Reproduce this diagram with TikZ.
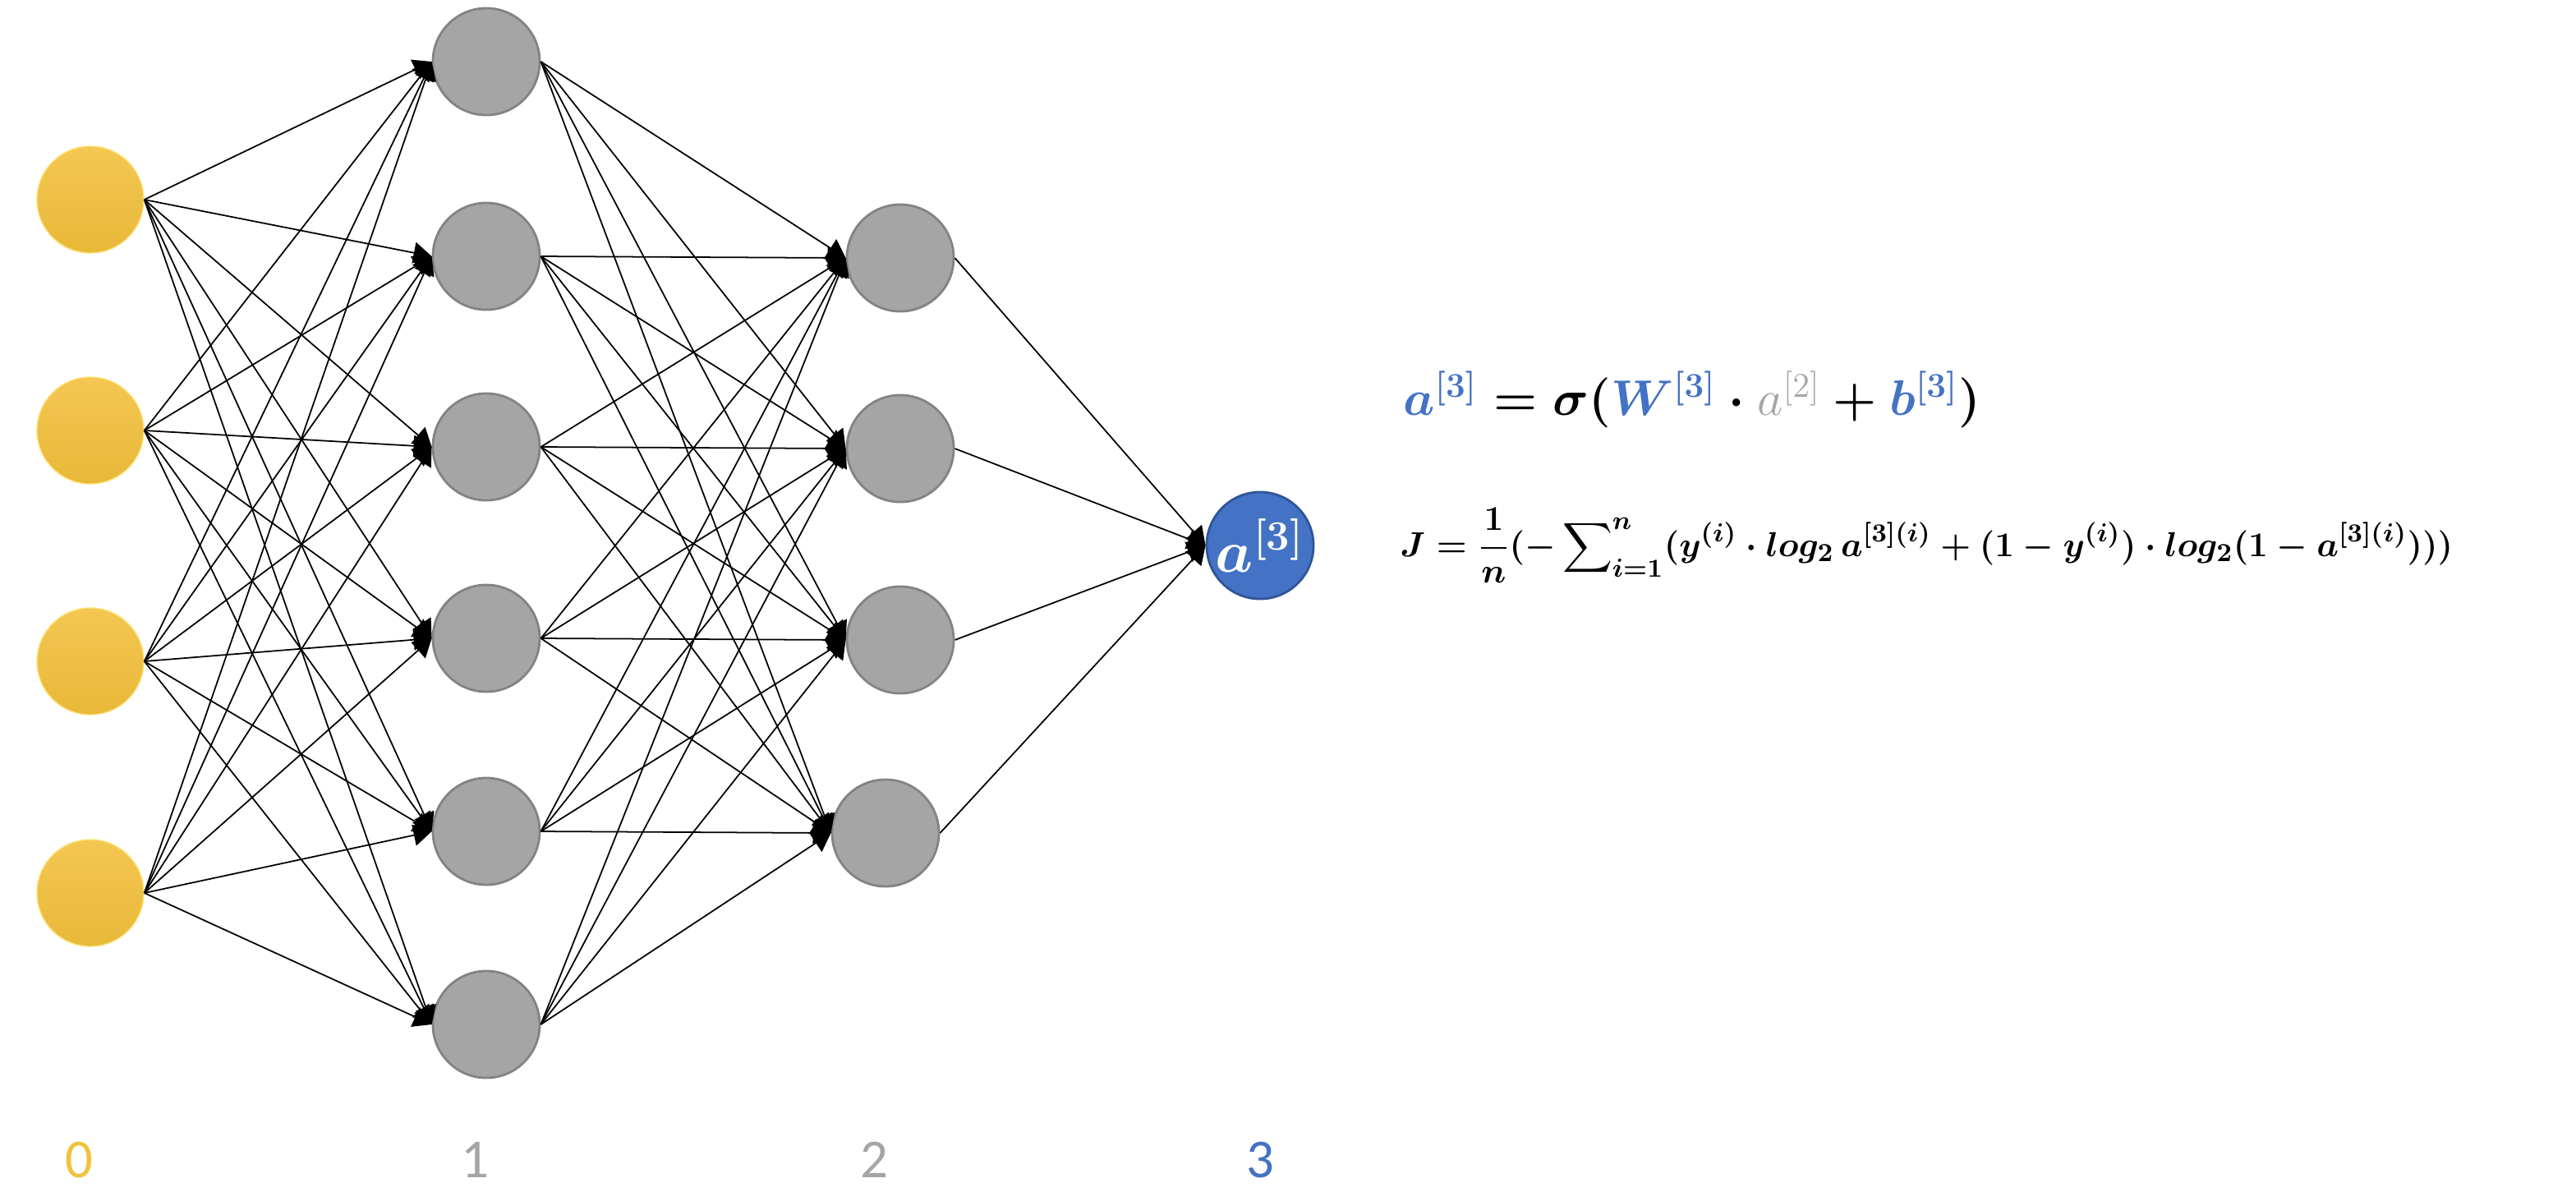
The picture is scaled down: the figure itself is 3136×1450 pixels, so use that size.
\documentclass[tikz,border=0pt]{standalone}
\usepackage{amsmath}
\usepackage{fontspec}
\newfontfamily\layerfont{Carlito}
\usetikzlibrary{arrows.meta}
\definecolor{yellowtop}{HTML}{F4C752}
\definecolor{yellowbot}{HTML}{E8B838}
\definecolor{yellowrim}{HTML}{FFE27A}
\definecolor{grayfill}{HTML}{A5A5A5}
\definecolor{grayrim}{HTML}{838383}
\definecolor{bluefill}{HTML}{4472C4}
\definecolor{bluerim}{HTML}{2F5597}
\definecolor{numyellow}{HTML}{F0C23C}
\begin{document}
\begin{tikzpicture}[x=0.01cm,y=-0.01cm,
    neuron/.style={circle,minimum size=1.3cm,inner sep=0pt},
    innode/.style={neuron,top color=yellowtop,bottom color=yellowbot,draw=yellowrim,line width=0.4pt},
    hidnode/.style={neuron,fill=grayfill,draw=grayrim,line width=0.8pt},
    outnode/.style={neuron,fill=bluefill,draw=bluerim,line width=0.8pt,text=white,font=\fontsize{21}{21}\selectfont\boldmath},
    wire/.style={-{Triangle[length=2.2mm,width=2.6mm]},line width=0.5pt},
    layernum/.style={inner sep=0pt,font=\layerfont\fontsize{19}{19}\selectfont}]
  \useasboundingbox (0,0) rectangle (3136,1450);
  % layer 0
  \node[innode] (A1) at (110,243) {};
  \node[innode] (A2) at (110,524) {};
  \node[innode] (A3) at (110,805) {};
  \node[innode] (A4) at (110,1087) {};
  % layer 1
  \node[hidnode] (B1) at (592,75) {};
  \node[hidnode] (B2) at (592,312) {};
  \node[hidnode] (B3) at (592,544) {};
  \node[hidnode] (B4) at (592,777) {};
  \node[hidnode] (B5) at (592,1012) {};
  \node[hidnode] (B6) at (592,1247) {};
  % layer 2
  \node[hidnode] (C1) at (1096,314) {};
  \node[hidnode] (C2) at (1096,546) {};
  \node[hidnode] (C3) at (1096,779) {};
  \node[hidnode] (C4) at (1078,1014) {};
  % layer 3
  \node[outnode] (Out) at (1534,664) {$a^{[3]}$};
  \foreach \i in {1,...,4}
    \foreach \j in {1,...,6}
      \draw[wire] (A\i.east) -- (B\j.west);
  \foreach \i in {1,...,6}
    \foreach \j in {1,...,4}
      \draw[wire] (B\i.east) -- (C\j.west);
  \foreach \i in {1,...,4}
    \draw[wire] (C\i.east) -- (Out.west);
  % formulas
  \node[anchor=west,font=\fontsize{18}{22}\selectfont\boldmath] (F1) at (1696,486)
    {$\textcolor{bluefill}{a^{[3]}} = \sigma(\textcolor{bluefill}{W^{[3]}}\cdot\mbox{\unboldmath$\textcolor{grayfill}{a^{[2]}}$}+\textcolor{bluefill}{b^{[3]}})$};
  \node[anchor=west,font=\fontsize{12.75}{15}\selectfont\boldmath] (F2) at (1692,664)
    {$\displaystyle J=\frac{1}{n}(-\sum\nolimits_{i=1}^{n}(y^{(i)}\cdot log_2\,a^{[3](i)}+(1-y^{(i)})\cdot log_2(1-a^{[3](i)})))$};
  % layer numbers
  \node[layernum,text=numyellow] (N0) at (96,1412) {0};
  \node[layernum,text=grayfill] (N1) at (578,1412) {1};
  \node[layernum,text=grayfill] (N2) at (1064,1412) {2};
  \node[layernum,text=bluefill] (N3) at (1534,1412) {3};
\end{tikzpicture}
\end{document}
